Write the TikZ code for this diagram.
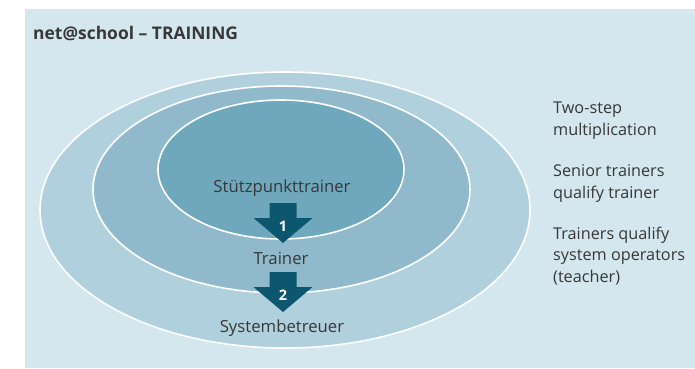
\documentclass[tikz,border=0pt]{standalone}
\usepackage{fontspec}
\setmainfont{Open Sans}
\definecolor{panel}{HTML}{D4E6EE}
\definecolor{ringA}{HTML}{AFD0DC}
\definecolor{ringB}{HTML}{90BACB}
\definecolor{ringC}{HTML}{6FA7BC}
\definecolor{stepblue}{HTML}{0C566E}
\definecolor{ink}{HTML}{383838}
\tikzset{
  ring/.style={draw=white, line width=1.6bp},
  level/.style={text=ink, font=\fontsize{16.8}{18}\selectfont, inner sep=0pt},
  stepnum/.style={text=white, font=\bfseries\fontsize{14.5}{16}\selectfont, inner sep=0pt},
  note/.style={text=ink, font=\fontsize{16.3}{21.4}\selectfont, align=left, anchor=base west, inner sep=0pt}
}
\begin{document}
\begin{tikzpicture}[x=1bp, y=-1bp]
\useasboundingbox (0,0) rectangle (695,368);
\fill[panel] (25,9) rectangle (695,368);
\node[text=ink, font=\bfseries\fontsize{17.5}{18}\selectfont, anchor=base west, inner sep=0pt] (title) at (33,39) {net@school -- TRAINING};
% rings
\filldraw[ring, fill=ringA] (285,210) ellipse [x radius=245bp, y radius=138bp];
\filldraw[ring, fill=ringB] (281.5,189.5) ellipse [x radius=188.5bp, y radius=103.5bp];
\filldraw[ring, fill=ringC] (281,169.5) ellipse [x radius=123bp, y radius=69.5bp];
% levels
\node[level] (senior) at (282,188) {Stützpunkttrainer};
\node[level] (trainer) at (281,258) {Trainer};
\node[level] (operator) at (282,328) {Systembetreuer};
% steps
\foreach \n/\y in {1/203,2/272} {
  \fill[stepblue] (283-13.5,\y) -- (283+13.5,\y) -- (283+13.5,\y+15) -- (283+29.5,\y+15)
    -- (283,\y+40) -- (283-29.5,\y+15) -- (283-13.5,\y+15) -- cycle;
  \node[stepnum] (step\n) at (283,\y+23) {\n};
}
% notes (base = last line)
\node[note] (twostep) at (553,135) {Two-step\\multiplication};
\node[note] (qualify) at (553,198) {Senior trainers\\qualify trainer};
\node[note] (teacher) at (553,282) {Trainers qualify\\system operators\\(teacher)};
\end{tikzpicture}
\end{document}
